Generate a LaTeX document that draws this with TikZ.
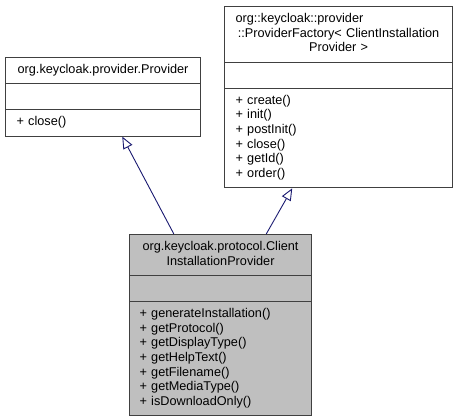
\documentclass[tikz,border=0pt]{standalone}
\usepackage{fontspec}
\setmainfont{Liberation Sans}
\usetikzlibrary{shapes.multipart,arrows.meta}
\definecolor{edgeblue}{HTML}{191970}
\definecolor{classgray}{HTML}{BFBFBF}
\definecolor{classline}{HTML}{404040}
\setlength{\parindent}{0pt}

\begin{document}
\begin{tikzpicture}
		[x=1pt,y=-1pt,every node/.style={rectangle split, rectangle split parts=3, draw=classline, fill=white, line width=1.1pt, anchor=north west, inner xsep=11pt, inner ysep=5.2pt, font=\fontsize{12.7}{14.67}\selectfont}]
		\useasboundingbox (0,0) rectangle (456,419);
		\node[text width=173pt] (prov) at (5,57) {\centering\strut org.keycloak.provider.Provider\strut\par
			\nodepart{second}\strut
			\nodepart{third}\raggedright\strut + close()\strut};
		\node[text width=206pt] (fact) at (224,6) {\centering\strut\makebox[\linewidth][l]{org::keycloak::provider}\par ::ProviderFactory< ClientInstallation\par Provider >\strut\par
			\nodepart{second}\strut
			\nodepart{third}\raggedright\strut + create()\par + init()\par + postInit()\par + close()\par + getId()\par + order()\strut};
		\node[text width=162pt, inner xsep=10pt, fill=classgray] (cip) at (129,234) {\centering\strut org.keycloak.protocol.Client\par InstallationProvider\strut\par
			\nodepart{second}\strut
			\nodepart{third}\raggedright\strut + generateInstallation()\par + getProtocol()\par + getDisplayType()\par + getHelpText()\par + getFilename()\par + getMediaType()\par + isDownloadOnly()\strut};
		%\node (front) at (0,0) {};
		\foreach \from/\dx/\to/\dy in {cip/-46.7/prov/19.2,cip/45.7/fact/-46.3}
		\draw[line width=0.9pt,edgeblue,-{Triangle[open,length=12pt,width=10pt,fill=white]}]  ([xshift=\dx pt]\from.north) -- ([xshift=\dy pt]\to.south);
	\end{tikzpicture}
\end{document}
